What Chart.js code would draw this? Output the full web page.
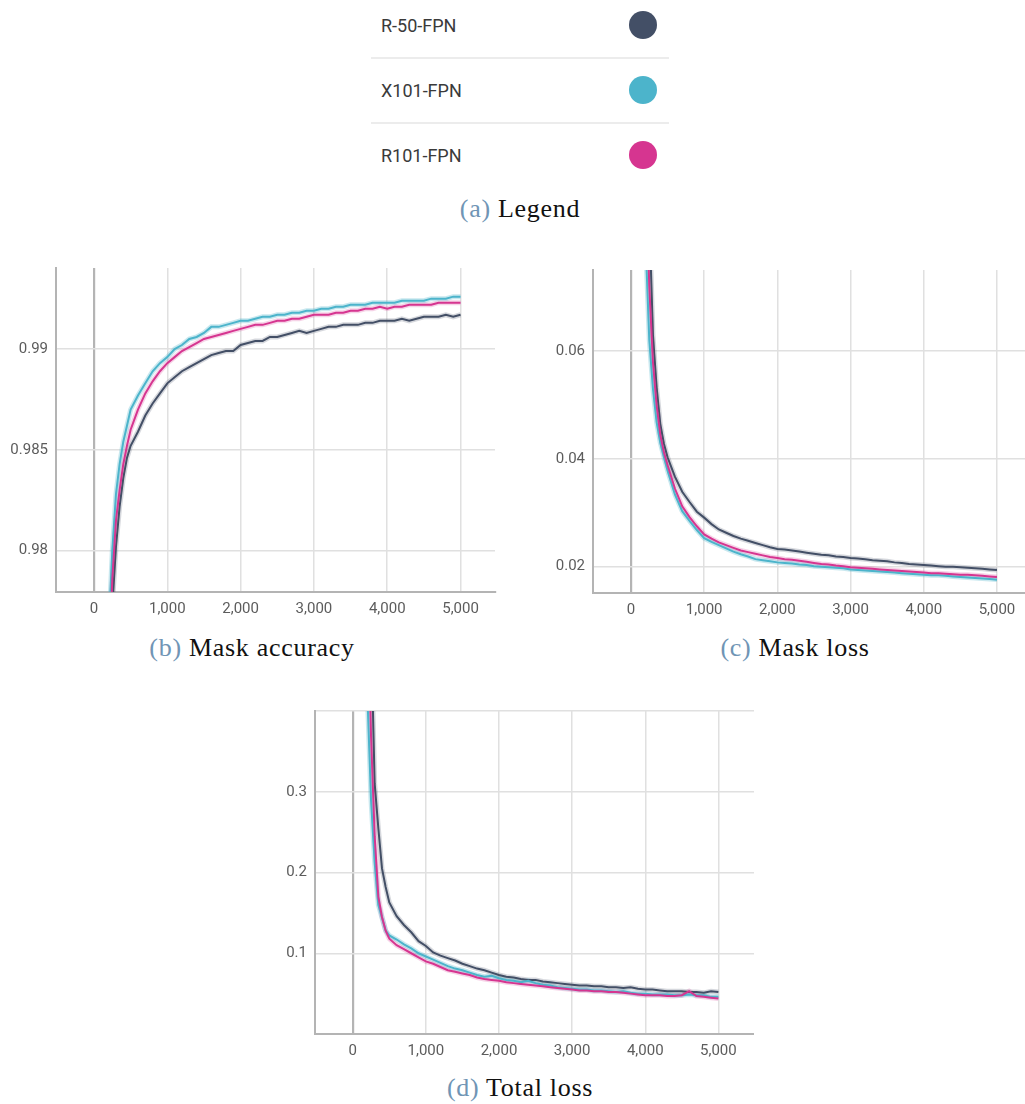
<!DOCTYPE html>
<html>
<head>
<meta charset="utf-8">
<script src="https://cdn.jsdelivr.net/npm/chart.js@4.4.0/dist/chart.umd.min.js"></script>
<style>
  html, body { margin:0; padding:0; background:#fff; }
  body { width:1025px; height:1104px; position:relative; overflow:hidden; }
  .box { position:absolute; }
  .lg-text { position:absolute; left:381px; font-family:Roboto, sans-serif; font-size:18px; line-height:18px; color:#3a3a3a; }
  .lg-dot { position:absolute; width:28px; height:28px; border-radius:50%; }
  .lg-sep { position:absolute; left:371px; width:298px; height:1.5px; background:#ececec; }
  .cap { position:absolute; font-family:"Liberation Serif", serif; font-size:26px; line-height:26px; color:#111; white-space:nowrap; letter-spacing:0.7px; transform:translateX(-50%); }
  .cap span { color:#7095b5; }
</style>
</head>
<body>
<div class="lg-text" style="top:17px">R-50-FPN</div>
<div class="lg-dot" style="left:629px;top:11px;background:#434f66"></div>
<div class="lg-sep" style="top:57px"></div>
<div class="lg-text" style="top:82px">X101-FPN</div>
<div class="lg-dot" style="left:629px;top:76px;background:#4cb4cb"></div>
<div class="lg-sep" style="top:122px"></div>
<div class="lg-text" style="top:147px">R101-FPN</div>
<div class="lg-dot" style="left:629px;top:141px;background:#d63590"></div>
<div class="cap" style="left:520px;top:196px"><span>(a)</span> Legend</div>

<div class="box" style="left:0px;top:260px;width:500px;height:360px"><canvas id="cAcc" width="500" height="360"></canvas></div>
<div class="box" style="left:540px;top:262px;width:485px;height:360px"><canvas id="cMask" width="485" height="360"></canvas></div>
<div class="box" style="left:260px;top:703px;width:494px;height:360px"><canvas id="cTotal" width="494" height="360"></canvas></div>

<div class="cap" style="left:252px;top:635px"><span>(b)</span> Mask accuracy</div>
<div class="cap" style="left:795px;top:635px"><span>(c)</span> Mask loss</div>
<div class="cap" style="left:520px;top:1075px"><span>(d)</span> Total loss</div>

<script>
const seriesNames = ['R-50-FPN', 'X101-FPN', 'R101-FPN'];
const seriesColors = ['#434f66', '#4cb4cb', '#d63590'];
const seriesHalo = ['rgba(67,79,102,0.22)', 'rgba(76,180,203,0.30)', 'rgba(214,53,144,0.22)'];

const steps = [200,250,300,350,400,450,500,
  600,700,800,900,1000,
  1100,1200,1300,1400,1500,1600,1700,1800,1900,2000,
  2100,2200,2300,2400,2500,2600,2700,2800,2900,3000,
  3100,3200,3300,3400,3500,3600,3700,3800,3900,4000,
  4100,4200,4300,4400,4500,4600,4700,4800,4900,5000];

const xTicks = [0,1000,2000,3000,4000,5000];

// (b) Mask accuracy
const accR50 = [0.9700,0.9772,0.9802,0.9822,0.9836,0.9846,0.9852,
  0.9859,0.9867,0.9873,0.9878,0.9883,
  0.9886,0.9889,0.9891,0.9893,0.9895,0.9897,0.9898,0.9899,0.9899,0.9902,
  0.9903,0.9904,0.9904,0.9906,0.9906,0.9907,0.9908,0.9909,0.9908,0.9909,
  0.9910,0.9911,0.9911,0.9912,0.9912,0.9912,0.9913,0.9913,0.9914,0.9914,
  0.9914,0.9915,0.9914,0.9915,0.9916,0.9916,0.9916,0.9917,0.9916,0.9917];
const accX101 = [0.9760,0.9800,0.9828,0.9843,0.9854,0.9862,0.9870,
  0.9877,0.9883,0.9889,0.9893,0.9896,
  0.9900,0.9902,0.9905,0.9906,0.9908,0.9911,0.9911,0.9912,0.9913,0.9914,
  0.9914,0.9915,0.9916,0.9916,0.9917,0.9917,0.9918,0.9918,0.9919,0.9919,
  0.9920,0.9920,0.9921,0.9921,0.9922,0.9922,0.9922,0.9923,0.9923,0.9923,
  0.9923,0.9924,0.9924,0.9924,0.9924,0.9925,0.9925,0.9925,0.9926,0.9926];
const accR101 = [0.9740,0.9786,0.9815,0.9830,0.9843,0.9852,0.9860,
  0.9870,0.9878,0.9884,0.9889,0.9893,
  0.9896,0.9899,0.9901,0.9903,0.9905,0.9906,0.9907,0.9908,0.9909,0.9910,
  0.9911,0.9912,0.9912,0.9913,0.9914,0.9914,0.9915,0.9915,0.9916,0.9917,
  0.9917,0.9917,0.9918,0.9918,0.9919,0.9919,0.9920,0.9920,0.9921,0.9920,
  0.9921,0.9921,0.9922,0.9922,0.9922,0.9922,0.9923,0.9923,0.9923,0.9923];
const accTicks = [0.98, 0.985, 0.99];
const accTickLabels = ['0.98', '0.985', '0.99'];

// (c) Mask loss
const maskR50 = [0.110,0.085,0.0630,0.0533,0.0465,0.0428,0.0403,
  0.0367,0.0339,0.0320,0.0302,0.0291,
  0.0279,0.0269,0.0263,0.0257,0.0252,0.0248,0.0244,0.0240,0.0236,0.0233,
  0.0232,0.0230,0.0228,0.0226,0.0224,0.0222,0.0221,0.0219,0.0218,0.0216,
  0.0215,0.0214,0.0212,0.0211,0.0210,0.0208,0.0207,0.0205,0.0204,0.0203,
  0.0202,0.0201,0.0200,0.0200,0.0199,0.0198,0.0197,0.0196,0.0195,0.0194];
const maskX101 = [0.080,0.062,0.0530,0.0468,0.0430,0.0403,0.0378,
  0.0334,0.0303,0.0285,0.0268,0.0253,
  0.0246,0.0240,0.0234,0.0228,0.0223,0.0219,0.0214,0.0212,0.0210,0.0208,
  0.0207,0.0206,0.0204,0.0203,0.0201,0.0200,0.0199,0.0198,0.0197,0.0195,
  0.0194,0.0193,0.0192,0.0191,0.0190,0.0189,0.0188,0.0187,0.0186,0.0185,
  0.0184,0.0184,0.0183,0.0182,0.0181,0.0180,0.0179,0.0178,0.0177,0.0176];
const maskR101 = [0.095,0.072,0.0580,0.0500,0.0445,0.0412,0.0388,
  0.0345,0.0312,0.0292,0.0275,0.0260,
  0.0252,0.0245,0.0240,0.0235,0.0230,0.0227,0.0224,0.0221,0.0218,0.0216,
  0.0214,0.0213,0.0211,0.0209,0.0207,0.0205,0.0204,0.0202,0.0201,0.0199,
  0.0198,0.0197,0.0196,0.0195,0.0194,0.0193,0.0192,0.0191,0.0190,0.0189,
  0.0188,0.0188,0.0187,0.0186,0.0185,0.0185,0.0184,0.0183,0.0182,0.0181];
const maskTicks = [0.02, 0.04, 0.06];
const maskTickLabels = ['0.02', '0.04', '0.06'];

// (d) Total loss
const totR50 = [0.70,0.50,0.31,0.255,0.205,0.182,0.163,
  0.146,0.135,0.126,0.115,0.109,
  0.101,0.097,0.094,0.091,0.087,0.084,0.081,0.079,0.076,0.073,
  0.071,0.070,0.068,0.067,0.067,0.065,0.064,0.063,0.062,0.061,
  0.060,0.060,0.059,0.059,0.058,0.058,0.057,0.058,0.056,0.055,
  0.055,0.054,0.053,0.053,0.053,0.052,0.052,0.051,0.053,0.052];
const totX101 = [0.42,0.29,0.212,0.160,0.144,0.128,0.122,
  0.117,0.111,0.106,0.100,0.096,
  0.092,0.088,0.084,0.081,0.079,0.076,0.073,0.071,0.072,0.069,
  0.067,0.066,0.064,0.066,0.063,0.061,0.060,0.058,0.057,0.056,
  0.055,0.055,0.054,0.054,0.053,0.052,0.053,0.051,0.050,0.050,
  0.049,0.049,0.049,0.048,0.048,0.049,0.048,0.048,0.046,0.046];
const totR101 = [0.55,0.37,0.245,0.170,0.145,0.128,0.118,
  0.110,0.105,0.100,0.095,0.090,
  0.087,0.083,0.079,0.077,0.075,0.073,0.070,0.068,0.067,0.066,
  0.064,0.063,0.062,0.061,0.060,0.059,0.058,0.057,0.056,0.055,
  0.054,0.054,0.053,0.053,0.052,0.052,0.051,0.050,0.049,0.048,
  0.048,0.048,0.047,0.047,0.048,0.053,0.047,0.046,0.045,0.044];
const totTicks = [0, 0.1, 0.2, 0.3, 0.4];
const totTickLabels = ['', '0.1', '0.2', '0.3', ''];

function pts(vals) { return steps.map((s, i) => ({ x: s, y: vals[i] })); }

function noPad(s) { s.paddingTop = 0; s.paddingBottom = 0; s.paddingLeft = 0; s.paddingRight = 0; }

function makeChart(id, series, cfg) {
  const datasets = [];
  series.forEach((vals, i) => {
    datasets.push({ data: pts(vals), borderColor: seriesHalo[i], borderWidth: 5, pointRadius: 0, tension: 0, order: 10 + i });
  });
  series.forEach((vals, i) => {
    datasets.push({ label: seriesNames[i], data: pts(vals), borderColor: seriesColors[i], borderWidth: 2, pointRadius: 0, tension: 0, order: 3 - i });
  });
  return new Chart(document.getElementById(id), {
    type: 'line',
    data: { datasets },
    options: {
      responsive: false, animation: false, devicePixelRatio: 1,
      layout: { padding: { top: cfg.padTop, right: cfg.padRight, left: 0, bottom: 0 } },
      plugins: { legend: { display: false }, tooltip: { enabled: false } },
      scales: {
        x: {
          type: 'linear', min: cfg.xMin, max: cfg.xMax,
          afterBuildTicks: s => { s.ticks = xTicks.map(v => ({ value: v })); },
          afterFit: s => { s.height = cfg.xH; noPad(s); },
          grid: {
            drawTicks: false,
            color: c => (c.tick && c.tick.value === 0) ? '#b4b4b4' : '#e0e0e0',
            lineWidth: c => (c.tick && c.tick.value === 0) ? 2.2 : 1.5
          },
          border: { display: true, color: '#b4b4b4', width: 2 },
          ticks: { padding: 8, color: '#5c5c5c', font: { family: 'Roboto', size: 15 },
            maxRotation: 0, autoSkip: false,
            callback: v => Number(v).toLocaleString('en-US') }
        },
        y: {
          type: 'linear', min: cfg.yMin, max: cfg.yMax,
          afterBuildTicks: s => { s.ticks = cfg.yTicks.map(v => ({ value: v })); },
          afterFit: s => { s.width = cfg.yW; noPad(s); },
          grid: { drawTicks: false, color: '#e0e0e0', lineWidth: 1.5 },
          border: { display: true, color: '#b4b4b4', width: 2 },
          ticks: { padding: 8, color: '#5c5c5c', font: { family: 'Roboto', size: 15 }, autoSkip: false,
            callback: (v, i) => cfg.yLabels[i] }
        }
      }
    }
  });
}

makeChart('cAcc', [accR50, accX101, accR101], {
  xMin: -518, xMax: 5470, yMin: 0.97795, yMax: 0.99402,
  yTicks: accTicks, yLabels: accTickLabels, yW: 56, xH: 28, padTop: 8, padRight: 5
});
makeChart('cMask', [maskR50, maskX101, maskR101], {
  xMin: -519, xMax: 5383, yMin: 0.01512, yMax: 0.07503,
  yTicks: maskTicks, yLabels: maskTickLabels, yW: 53, xH: 29, padTop: 8, padRight: 0
});
makeChart('cTotal', [totR50, totX101, totR101], {
  xMin: -516, xMax: 5487, yMin: 0, yMax: 0.4,
  yTicks: totTicks, yLabels: totTickLabels, yW: 55, xH: 29, padTop: 8, padRight: 0
});
</script>
</body>
</html>
